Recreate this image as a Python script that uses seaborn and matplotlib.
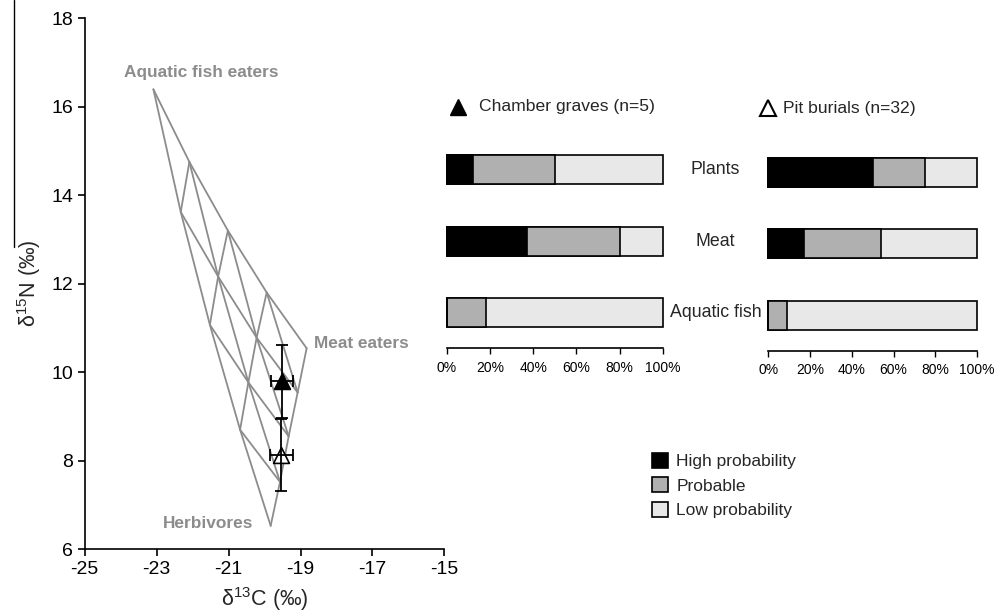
import pandas as pd
import matplotlib.pyplot as plt
import seaborn as sns
from matplotlib.patches import Patch
from matplotlib.lines import Line2D
from matplotlib.transforms import blended_transform_factory

# mixing-model grid nodes, keyed by (fish, meat, herbivore) share in quarters
node_keys = [(4, 0, 0), (3, 1, 0), (2, 2, 0), (1, 3, 0), (0, 4, 0),
             (3, 0, 1), (2, 1, 1), (1, 2, 1), (0, 3, 1),
             (2, 0, 2), (1, 1, 2), (0, 2, 2),
             (1, 0, 3), (0, 1, 3),
             (0, 0, 4)]
node_c13 = [-23.09, -22.09, -21.02, -19.94, -18.83,
            -22.33, -21.29, -20.22, -19.08,
            -21.52, -20.45, -19.33,
            -20.68, -19.57,
            -19.83]
node_n15 = [16.39, 14.75, 13.20, 11.80, 10.54,
            13.62, 12.16, 10.78, 9.54,
            11.07, 9.77, 8.55,
            8.70, 7.52,
            6.53]

# group means and standard deviations
groups = ["Chamber graves", "Pit burials"]
mean_c13 = [-19.52, -19.53]
mean_n15 = [9.79, 8.13]
sd_c13 = [0.31, 0.33]
sd_n15 = [0.82, 0.82]

# diet probabilities (%)
food = ["Plants", "Meat", "Aquatic fish"]
chamber_high = [12, 37, 0]
chamber_prob = [38, 43, 18]
chamber_low = [50, 20, 82]
pit_high = [50, 17, 0]
pit_prob = [25, 37, 9]
pit_low = [25, 46, 91]

BLACK = "#000000"
GREY = "#b0b0b0"
LIGHT = "#e8e8e8"
LINE_GREY = "#8c8c8c"

sns.set_style("ticks")
plt.rcParams["font.family"] = ["Liberation Sans", "DejaVu Sans"]
plt.rcParams["mathtext.fontset"] = "custom"
plt.rcParams["mathtext.rm"] = "Liberation Sans"
plt.rcParams["axes.unicode_minus"] = False

fig = plt.figure(figsize=(10, 6.16), dpi=100)

# ---- left: isotope plot ----
ax = fig.add_axes([0.0847, 0.1084, 0.3597, 0.8623])

rows = []
line_id = 0
for s in range(3):
    for level in range(4):
        pts = [(k, x, y) for k, x, y in zip(node_keys, node_c13, node_n15) if k[s] == level]
        pts.sort(key=lambda p: -p[0][(s + 1) % 3])
        for k, x, y in pts:
            rows.append({"line": line_id, "c13": x, "n15": y})
        line_id += 1
grid_df = pd.DataFrame(rows)

sns.lineplot(data=grid_df, x="c13", y="n15", units="line", estimator=None, sort=False,
             color=LINE_GREY, linewidth=1.3, ax=ax, legend=False)

sns.scatterplot(x=[mean_c13[0]], y=[mean_n15[0]], marker="^", s=130, color="black",
                edgecolor="black", linewidth=1.2, ax=ax, zorder=4)
sns.scatterplot(x=[mean_c13[1]], y=[mean_n15[1]], marker="^", s=130, facecolor="white",
                edgecolor="black", linewidth=1.2, ax=ax, zorder=4)
ax.errorbar(mean_c13, mean_n15, xerr=sd_c13, yerr=sd_n15, fmt="none", ecolor="black",
            elinewidth=1.3, capsize=4.5, capthick=1.3, zorder=5)

ann_kw = dict(color=LINE_GREY, fontsize=12.4, fontweight="bold", ha="center", va="center")
ax.text(-21.75, 16.77, "Aquatic fish eaters", **ann_kw)
ax.text(-17.30, 10.65, "Meat eaters", **ann_kw)
ax.text(-21.57, 6.57, "Herbivores", **ann_kw)

ax.set_xlim(-25, -15)
ax.set_ylim(6, 18)
ax.set_xticks(range(-25, -14, 2))
ax.set_yticks(range(6, 19, 2))
ax.set_xlabel(r"δ$^{13}$C (‰)", fontsize=15.5, labelpad=5)
ax.set_ylabel(r"δ$^{15}$N (‰)", fontsize=15.5, labelpad=6)
ax.tick_params(labelsize=14, length=5, width=1.2, colors="black")
sns.despine(ax=ax)
for sp in ax.spines.values():
    sp.set_linewidth(1.2)
    sp.set_color("black")


# ---- right: stacked probability bars ----
def draw_bars(bax, high, prob, low):
    df = pd.DataFrame({"food": food, "high": high, "prob": prob, "low": low})
    df["cum_prob"] = df["high"] + df["prob"]
    df["cum_low"] = df["cum_prob"] + df["low"]
    for col, colour in [("cum_low", LIGHT), ("cum_prob", GREY), ("high", BLACK)]:
        sns.barplot(data=df, x=col, y="food", orient="h", color=colour, saturation=1,
                    edgecolor="black", linewidth=1.2, width=0.41, ax=bax)
    for p in bax.patches:
        p.set_clip_on(False)
    bax.set_xlim(0, 100)
    bax.set_ylim(2.5, -0.5)
    bax.set_xticks(range(0, 101, 20))
    bax.set_xticklabels([f"{v}%" for v in range(0, 101, 20)])
    bax.set_yticks([])
    bax.set_xlabel("")
    bax.set_ylabel("")
    bax.tick_params(axis="x", labelsize=10, length=4, width=1, colors="black", pad=5)
    sns.despine(ax=bax, left=True)
    bax.spines["bottom"].set_linewidth(1.2)
    bax.spines["bottom"].set_color("black")


bax1 = fig.add_axes([0.4467, 0.4343, 0.2163, 0.3482])
bax2 = fig.add_axes([0.7683, 0.4302, 0.2087, 0.3482])
draw_bars(bax1, chamber_high, chamber_prob, chamber_low)
draw_bars(bax2, pit_high, pit_prob, pit_low)

# panel headers
bax1.plot([0.05], [1.127], marker="^", ms=12, color="black", transform=bax1.transAxes, clip_on=False)
bax1.text(0.15, 1.127, "Chamber graves (n=5)", fontsize=12.6, va="center", transform=bax1.transAxes)
bax2.plot([0.0], [1.132], marker="^", ms=12, mfc="white", mec="black", mew=1.5,
          transform=bax2.transAxes, clip_on=False)
bax2.text(0.072, 1.132, "Pit burials (n=32)", fontsize=12.6, va="center", transform=bax2.transAxes)

# category labels between the panels
trans = blended_transform_factory(fig.transFigure, bax1.transData)
for i, name in enumerate(food):
    bax1.text(0.7155, i, name, fontsize=12.8, ha="center", va="center", transform=trans)

handles = [Patch(facecolor=c, edgecolor="black", linewidth=1.2) for c in (BLACK, GREY, LIGHT)]
fig.legend(handles, ["High probability", "Probable", "Low probability"], loc="upper left",
           bbox_to_anchor=(0.652, 0.2646), frameon=False, fontsize=12.5, borderpad=0,
           borderaxespad=0, handlelength=0.95, handleheight=0.95, handletextpad=0.45,
           labelspacing=0.45)

# thin stray rule at the far left edge of the original figure
fig.add_artist(Line2D([0.014, 0.014], [1.0, 1 - 247 / 616], color="black", lw=1,
                      transform=fig.transFigure))

fig.savefig("out.png", dpi=100)
